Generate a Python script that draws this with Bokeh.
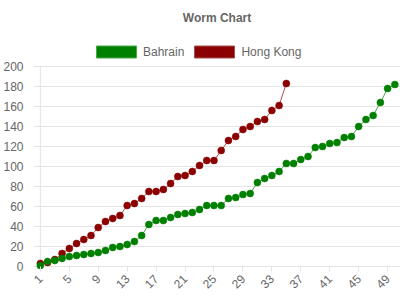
import math
from bokeh.plotting import figure
from bokeh.models import (ColumnDataSource, FixedTicker, Legend, LegendItem)
from bokeh.embed import file_html
from bokeh.resources import INLINE

# ---- data ----
labels = list(range(1, 51))
bahrain = [1, 5, 6, 8, 10, 11, 12, 13, 14, 16,
           19, 20, 22, 25, 31, 42, 46, 46, 49, 52,
           53, 54, 57, 61, 61, 61, 68, 69, 72, 73,
           84, 88, 91, 95, 103, 103, 107, 110, 119, 120,
           123, 124, 129, 130, 140, 147, 151, 164, 178, 182]
hong_kong = [3, 4, 7, 13, 18, 23, 27, 31, 39, 45,
             48, 51, 61, 63, 68, 75, 75, 77, 83, 90,
             91, 95, 101, 106, 106, 116, 126, 130, 137, 140,
             145, 147, 156, 161, 183]
series_names = ["Bahrain", "Hong Kong"]
y_ticks = list(range(0, 201, 20))
x_tick_labels = labels[::4]

GREEN = "#008000"
RED = "#8b0000"
TXT = "#666666"
GRID = "#e4e4e4"
FONT = "Liberation Sans"

p = figure(width=400, height=300, output_backend="svg", toolbar_location=None,
           x_range=(labels[0] - 0.95, labels[-1] + 0.78),
           y_range=(-4, y_ticks[-1] + 36))
p.min_border_left = 28
p.min_border_right = 0
p.min_border_top = 30
p.min_border_bottom = 30
p.outline_line_color = None
p.background_fill_color = "white"
p.border_fill_color = "white"

p.title.text = "Worm Chart"
p.title.align = "center"
p.title.text_font = FONT
p.title.text_font_size = "12px"
p.title.text_font_style = "bold"
p.title.text_color = TXT
p.title.offset = 0
p.title.standoff = 11

# grids
p.xgrid.grid_line_color = None
p.ygrid.grid_line_color = GRID
p.ygrid.grid_line_width = 1
p.ygrid.ticker = FixedTicker(ticks=y_ticks)

# y axis
p.yaxis.ticker = FixedTicker(ticks=y_ticks)
p.yaxis.axis_line_color = None
p.yaxis.major_tick_line_color = None
p.yaxis.minor_tick_line_color = None
p.yaxis.major_label_standoff = 4
p.yaxis.major_label_text_font = FONT
p.yaxis.major_label_text_font_size = "12px"
p.yaxis.major_label_text_color = TXT

# x axis
p.xaxis.ticker = FixedTicker(ticks=x_tick_labels)
p.xaxis.axis_line_color = None
p.xaxis.major_tick_line_color = GRID
p.xaxis.major_tick_in = 4
p.xaxis.major_tick_out = 1
p.xaxis.minor_tick_line_color = None
p.xaxis.major_label_orientation = math.pi / 4
p.xaxis.major_label_standoff = 5
p.xaxis.major_label_text_font = FONT
p.xaxis.major_label_text_font_size = "12px"
p.xaxis.major_label_text_color = TXT

# y axis line at first category
p.segment(x0=[labels[0]], y0=[y_ticks[0]], x1=[labels[0]], y1=[y_ticks[-1]],
          line_color=GRID, line_width=1)

# series
src_b = ColumnDataSource(dict(x=labels, y=bahrain))
src_h = ColumnDataSource(dict(x=labels[:len(hong_kong)], y=hong_kong))

p.line("x", "y", source=src_h, line_color=RED, line_alpha=0.7, line_width=1)
p.scatter("x", "y", source=src_h, size=7, fill_color=RED, line_color=RED,
          line_alpha=0.5, line_width=1)
p.line("x", "y", source=src_b, line_color=GREEN, line_alpha=0.7, line_width=1)
p.scatter("x", "y", source=src_b, size=7, fill_color=GREEN, line_color=GREEN,
          line_alpha=0.5, line_width=1)

# legend boxes (renderers with a single NaN row: nothing drawn in the plot)
nan = float("nan")
box_src = ColumnDataSource(dict(left=[nan], right=[nan], top=[nan], bottom=[nan]))
lb = p.quad(left="left", right="right", top="top", bottom="bottom", source=box_src,
            fill_color=GREEN, line_color="#4aa84a", line_width=1)
lh = p.quad(left="left", right="right", top="top", bottom="bottom", source=box_src,
            fill_color=RED, line_color="#a85050", line_width=1)

legend = Legend(items=[LegendItem(label=series_names[0], renderers=[lb], index=0),
                       LegendItem(label=series_names[1], renderers=[lh], index=0)],
                orientation="horizontal", location=(58, 211),
                glyph_width=50, glyph_height=15, label_standoff=2, spacing=5,
                padding=0, margin=0, border_line_color=None,
                background_fill_alpha=0,
                label_text_font=FONT, label_text_font_size="12px",
                label_text_color=TXT, label_height=12)
p.add_layout(legend, "center")

open("out.html", "w").write(file_html(p, INLINE))
